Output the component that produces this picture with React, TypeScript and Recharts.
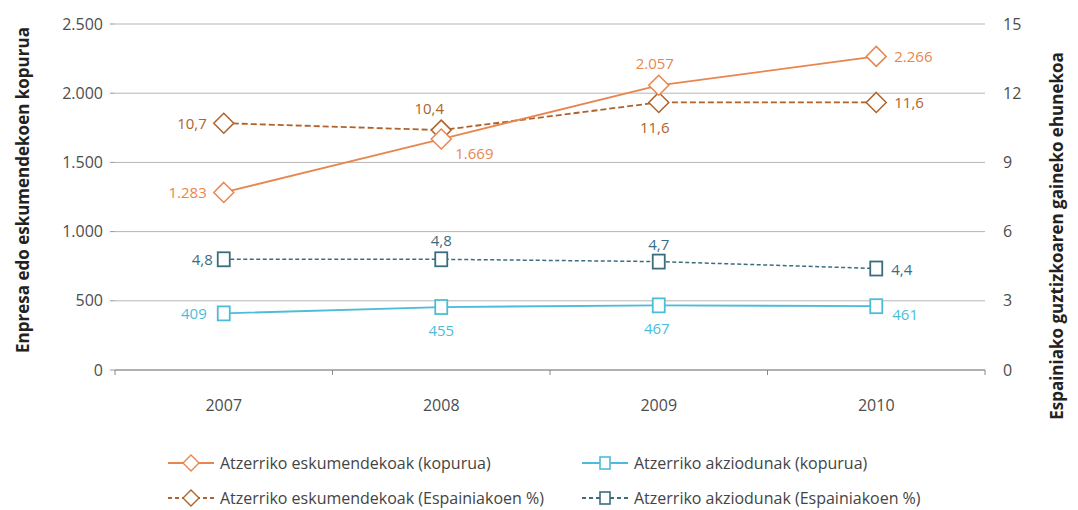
import { ComposedChart, Line, XAxis, YAxis, CartesianGrid, LabelList } from 'recharts';

const years = ['2007', '2008', '2009', '2010'];
const eskumendekoakKop = [1283, 1669, 2057, 2266];
const eskumendekoakPct = [10.7, 10.4, 11.6, 11.6];
const akziodunakKop = [409, 455, 467, 461];
const akziodunakPct = [4.8, 4.8, 4.7, 4.4];

const leftTicks = [0, 500, 1000, 1500, 2000, 2500];
const rightTicks = [0, 3, 6, 9, 12, 15];

const ORANGE = '#E8864F';
const BROWN = '#B0622A';
const CYAN = '#4DBCD8';
const TEAL = '#3B6D7E';

const FONT = '"Open Sans", "Noto Sans", sans-serif';

const WIDTH = 1078;
const HEIGHT = 510;
const MARGIN = { top: 24, right: 33, bottom: 110, left: 45 };
const LEFT_AXIS_W = 70;
const RIGHT_AXIS_W = 60;
const PLOT_W = WIDTH - MARGIN.left - MARGIN.right - LEFT_AXIS_W - RIGHT_AXIS_W;
const BAND = PLOT_W / years.length;

// label placement per point: [dx, dy, anchor]
type Place = [number, number, 'start' | 'middle' | 'end'];
const orangePlace: Place[] = [[-17, 0, 'end'], [14, 14, 'start'], [-4, -22, 'middle'], [18, 0, 'start']];
const brownPlace: Place[] = [[-17, 0, 'end'], [-12, -22, 'middle'], [-4, 25, 'middle'], [18, 0, 'start']];
const cyanPlace: Place[] = [[-17, 0, 'end'], [0, 23, 'middle'], [-2, 23, 'middle'], [16, 8, 'start']];
const tealPlace: Place[] = [[-11, 0, 'end'], [0, -19, 'middle'], [0, -18, 'middle'], [15, 0, 'start']];

const fmtInt = (v: number) => String(v).replace(/\B(?=(\d{3})+(?!\d))/g, '.');
const fmtDec = (v: number) => v.toFixed(1).replace('.', ',');

const data = years.map((y, i) => ({
  year: y,
  eskKop: eskumendekoakKop[i],
  eskPct: eskumendekoakPct[i],
  akzKop: akziodunakKop[i],
  akzPct: akziodunakPct[i],
}));

const makeLabel = (color: string, places: Place[], fmt: (v: number) => string) => (props: any) => {
  const { x, y, value, index } = props;
  const [dx, dy, anchor] = places[index];
  return (
    <text x={x + dx} y={y + dy} fill={color} textAnchor={anchor} dominantBaseline="central"
      fontSize={15} fontFamily={FONT}>
      {fmt(value)}
    </text>
  );
};

const Diamond = ({ cx, cy, color }: any) => (
  <path d={`M${cx},${cy - 10}L${cx + 10},${cy}L${cx},${cy + 10}L${cx - 10},${cy}Z`}
    fill="#fff" stroke={color} strokeWidth={1.5} />
);

const Square = ({ cx, cy, color }: any) => (
  <rect x={cx - 6} y={cy - 7} width={12} height={14} fill="#fff" stroke={color} strokeWidth={1.8} />
);

const diamondDot = (color: string) => (p: any) => <Diamond key={p.index} cx={p.cx} cy={p.cy} color={color} />;
const squareDot = (color: string) => (p: any) => <Square key={p.index} cx={p.cx} cy={p.cy} color={color} />;

const XTick = ({ x, y, payload, index }: any) => (
  <g>
    <line x1={x - BAND / 2} y1={y - 5} x2={x - BAND / 2} y2={y} stroke="#888" />
    {index === years.length - 1 && (
      <line x1={x + BAND / 2} y1={y - 5} x2={x + BAND / 2} y2={y} stroke="#888" />
    )}
    <text x={x} y={y + 36} textAnchor="middle" fill="#4d4d4d" fontSize={16} fontFamily={FONT}>
      {payload.value}
    </text>
  </g>
);

const legendItems = [
  { label: 'Atzerriko eskumendekoak (kopurua)', color: ORANGE, dash: undefined, shape: 'diamond' },
  { label: 'Atzerriko akziodunak (kopurua)', color: CYAN, dash: undefined, shape: 'square' },
  { label: 'Atzerriko eskumendekoak (Espainiakoen %)', color: BROWN, dash: '4 3', shape: 'diamond' },
  { label: 'Atzerriko akziodunak (Espainiakoen %)', color: TEAL, dash: '4 3', shape: 'square' },
];

const LegendBox = () => (
  <div style={{ position: 'absolute', left: 166, top: 452, display: 'grid', gridTemplateColumns: '414px 440px',
    rowGap: 13, fontFamily: FONT, fontSize: 16, color: '#444' }}>
    {legendItems.map((it) => (
      <div key={it.label} style={{ display: 'flex', alignItems: 'center', height: 22, whiteSpace: 'nowrap' }}>
        <svg width={50} height={22} style={{ marginRight: 4 }}>
          <line x1={2} y1={11} x2={48} y2={11} stroke={it.color} strokeWidth={1.8} strokeDasharray={it.dash} />
          {it.shape === 'diamond'
            ? <path d="M25,3L33,11L25,19L17,11Z" fill="#fff" stroke={it.color} strokeWidth={1.4} />
            : <rect x={20} y={5} width={10} height={12} fill="#fff" stroke={it.color} strokeWidth={1.6} />}
        </svg>
        <span>{it.label}</span>
      </div>
    ))}
  </div>
);

export default function App() {
  return (
    <div style={{ position: 'absolute', left: 0, top: 0, width: WIDTH, height: HEIGHT, background: '#fff' }}>
      <ComposedChart width={WIDTH} height={HEIGHT} data={data} margin={MARGIN}>
        <CartesianGrid vertical={false} stroke="#b5b5b5" yAxisId="left" />
        <XAxis dataKey="year" tick={<XTick />} tickLine={false} axisLine={{ stroke: '#888' }}
          tickSize={5} tickMargin={0} interval={0} padding={{ left: BAND / 2, right: BAND / 2 }} />
        <YAxis yAxisId="left" width={LEFT_AXIS_W} domain={[0, 2500]} ticks={leftTicks}
          tickFormatter={fmtInt} axisLine={false} tickLine={{ stroke: '#999' }} tickSize={5} tickMargin={7}
          tick={{ fill: '#4d4d4d', fontSize: 16, fontFamily: FONT }} />
        <YAxis yAxisId="right" orientation="right" width={RIGHT_AXIS_W} domain={[0, 15]} ticks={rightTicks}
          axisLine={false} tickLine={false} tickSize={8} tickMargin={10}
          tick={{ fill: '#4d4d4d', fontSize: 16, fontFamily: FONT, textAnchor: 'start' }} />
        <text x={22} y={190} transform="rotate(-90 22 190)" textAnchor="middle" dominantBaseline="central"
          fontWeight={700} fontSize={17} fill="#222" fontFamily={FONT}>
          Enpresa edo eskumendekoen kopurua
        </text>
        <text x={1056} y={236} transform="rotate(-90 1056 236)" textAnchor="middle" dominantBaseline="central"
          fontWeight={700} fontSize={17} fill="#222" fontFamily={FONT}>
          Espainiako guztizkoaren gaineko ehunekoa
        </text>
        <Line yAxisId="right" dataKey="eskPct" stroke={BROWN} strokeWidth={1.8} strokeDasharray="6 3"
          dot={diamondDot(BROWN)} isAnimationActive={false}>
          <LabelList dataKey="eskPct" content={makeLabel(BROWN, brownPlace, fmtDec)} />
        </Line>
        <Line yAxisId="left" dataKey="eskKop" stroke={ORANGE} strokeWidth={1.8}
          dot={diamondDot(ORANGE)} isAnimationActive={false}>
          <LabelList dataKey="eskKop" content={makeLabel(ORANGE, orangePlace, fmtInt)} />
        </Line>
        <Line yAxisId="right" dataKey="akzPct" stroke={TEAL} strokeWidth={1.5} strokeDasharray="4 2.5"
          dot={squareDot(TEAL)} isAnimationActive={false}>
          <LabelList dataKey="akzPct" content={makeLabel(TEAL, tealPlace, fmtDec)} />
        </Line>
        <Line yAxisId="left" dataKey="akzKop" stroke={CYAN} strokeWidth={1.8}
          dot={squareDot(CYAN)} isAnimationActive={false}>
          <LabelList dataKey="akzKop" content={makeLabel(CYAN, cyanPlace, fmtInt)} />
        </Line>
      </ComposedChart>
      <LegendBox />
    </div>
  );
}
